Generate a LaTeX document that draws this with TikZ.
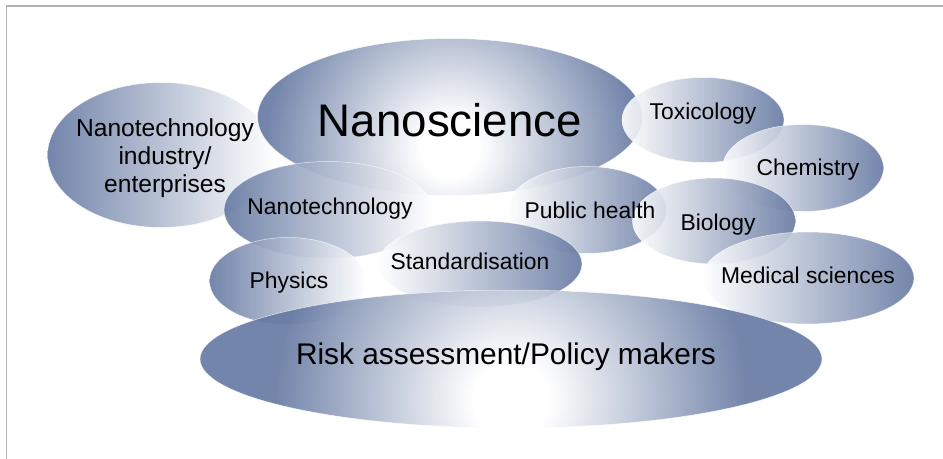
\documentclass[tikz,border=0pt]{standalone}
\usepackage{fontspec}
\setmainfont{Liberation Sans}
\definecolor{slate}{RGB}{100,120,161}
\definecolor{rim}{RGB}{178,178,178}
\usepackage{tikz}
\usetikzlibrary{shapes.geometric}
\pgfdeclareradialshading{glow}{\pgfpoint{0bp}{0bp}}{color(0bp)=(white); color(2bp)=(white); color(12.5bp)=(slate); color(50bp)=(slate)}
\tikzset{
  blob/.style={shape=ellipse, inner sep=0pt, draw=white, line width=0.3pt, draw opacity=0.7, fill opacity=0.9},
  darkleft/.style={blob, left color=slate, right color=white},
  darkright/.style={blob, left color=white, right color=slate},
  glowy/.style 2 args={blob, path picture={\shade[shading=glow, fill opacity=0.9] ([yshift=#1]path picture bounding box.center) circle (#2);}},
  lbl/.style={font=\fontsize{13}{15.9}\selectfont, align=center, inner sep=0pt}
}

\begin{document}
\begin{tikzpicture}[x=0.02cm, y=-0.02cm]
        \useasboundingbox (0,0) rectangle (943,459);
        \draw[rim, line width=0.75pt] (943,6) -- (6.5,6) -- (6.5,459);
        \node[darkleft, minimum width=4.54cm, minimum height=2.90cm] (industry) at (161,155) {};
        \node[glowy={-0.62cm}{7.4cm}, minimum width=7.70cm, minimum height=3.14cm] (nanosci) at (450,117) {};
        \node[darkright, minimum width=3.24cm, minimum height=1.70cm] (toxic) at (703,120) {};
        \node[darkright, minimum width=3.22cm, minimum height=1.74cm] (chem) at (803,168) {};
        \node[darkleft, minimum width=4.16cm, minimum height=1.94cm] (nanotech) at (328,210) {};
        \node[darkright, minimum width=3.18cm, minimum height=1.74cm] (health) at (587,210) {};
        \node[darkright, minimum width=3.26cm, minimum height=1.72cm] (bio) at (714,221) {};
        \node[darkright, minimum width=4.24cm, minimum height=1.84cm] (medic) at (808,278) {};
        \node[darkleft, minimum width=3.14cm, minimum height=1.74cm] (phys) at (288,281) {};
        \node[darkright, minimum width=4.08cm, minimum height=1.72cm] (standard) at (480,264) {};
        \node[glowy={-0.8cm}{9.4cm}, minimum width=12.44cm, minimum height=2.76cm] (risk) at (511,359) {};
        \node[lbl, font=\fontsize{14}{15.9}\selectfont] (industry-t) at (165,158) {Nanotechnology\\industry/\\enterprises};
        \node[lbl, font=\fontsize{26}{30}\selectfont] (nanosci-t) at (450,120) {Nanoscience};
        \node[lbl] (toxic-t) at (703,114) {Toxicology};
        \node[lbl] (chem-t) at (808,170) {Chemistry};
        \node[lbl] (nanotech-t) at (330,209) {Nanotechnology};
        \node[lbl] (health-t) at (590,210) {Public health};
        \node[lbl] (bio-t) at (718,225) {Biology};
        \node[lbl] (medic-t) at (808,275) {Medical sciences};
        \node[lbl] (phys-t) at (289,283) {Physics};
        \node[lbl] (standard-t) at (470,261) {Standardisation};
        \node[lbl, font=\fontsize{17}{20}\selectfont] (risk-t) at (506,357) {Risk assessment/Policy makers};
      \end{tikzpicture}
\end{document}
